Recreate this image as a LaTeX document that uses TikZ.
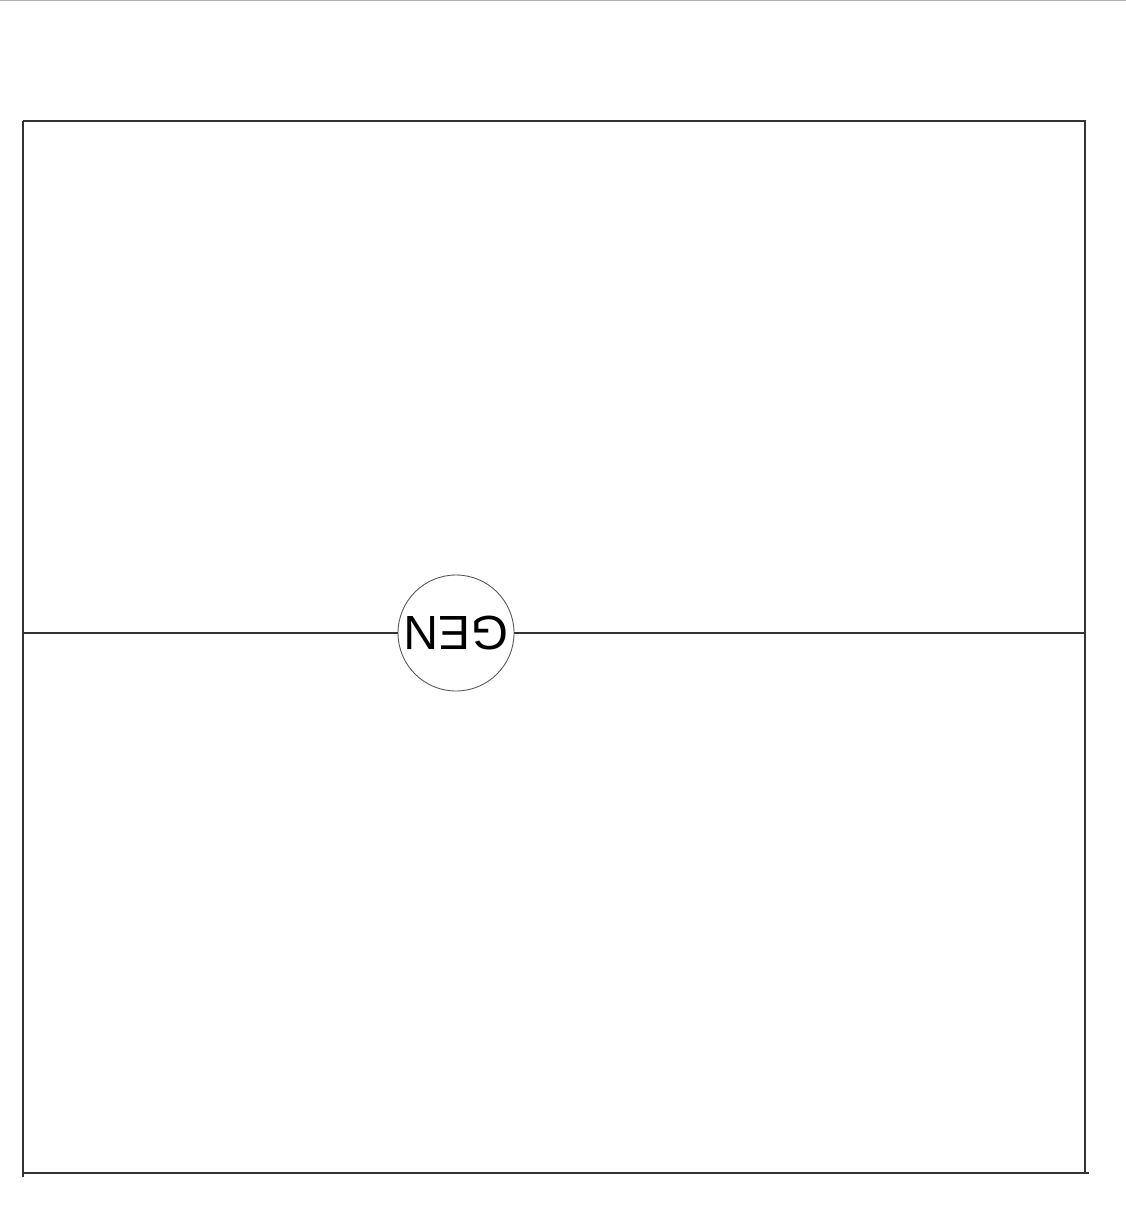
\documentclass[tikz,border=0pt]{standalone}
\usepackage{fontspec}
\setmainfont{Liberation Sans}
\begin{document}
\begin{tikzpicture}[x=1pt,y=-1pt,
  wire/.style={draw=black!80,line width=1.4pt},
  gencirc/.style={circle,draw=black!65,line width=0.9pt,fill=white,minimum size=116pt,inner sep=0pt}]
\useasboundingbox (0,0) rectangle (1126,1225);
\draw[black!30,line width=1.5pt] (0,0.7) -- (1126,0.7);
\coordinate (tl) at (23,121);
\coordinate (tr) at (1085,121);
\coordinate (bl) at (23,1173);
\coordinate (br) at (1085,1173);
\coordinate (blx) at (23,1177);
\coordinate (brx) at (1089,1173);
\coordinate (ml) at (23,633);
\coordinate (mr) at (1085,633);
\draw[wire] (tl) -- (tr) -- (br);
\draw[wire] (tl) -- (blx);
\draw[wire] (bl) -- (brx);
\node[gencirc] (gen) at (456,633) {};
\node[rotate=180,inner sep=0pt,font=\fontsize{48}{48}\selectfont] (gentext) at (gen.center) {GEN};
\draw[wire] (ml) -- (gen);
\draw[wire] (gen) -- (mr);
\end{tikzpicture}
\end{document}
